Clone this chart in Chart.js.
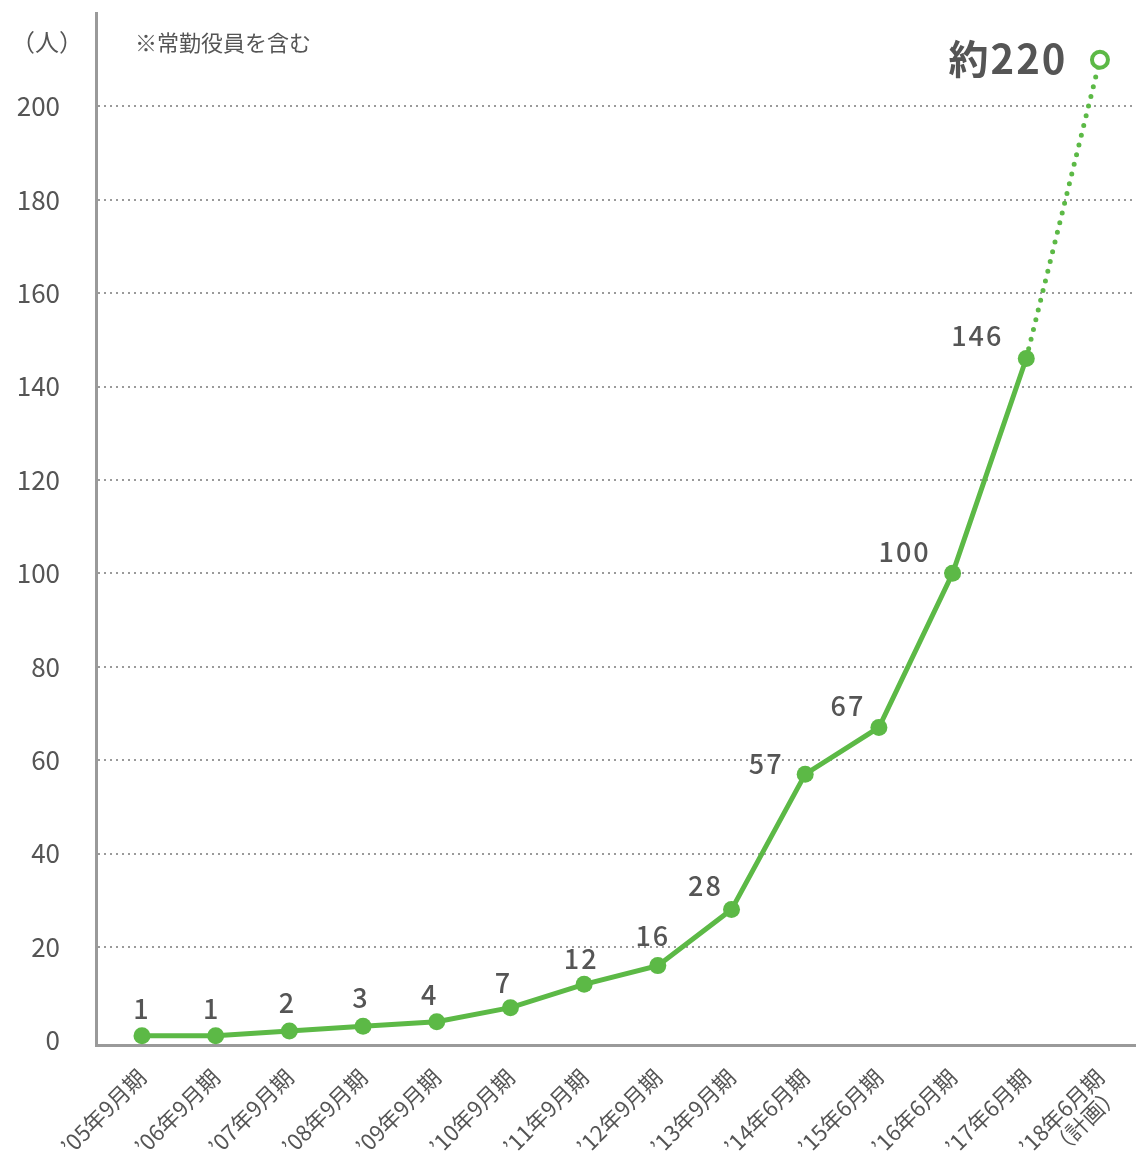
<!DOCTYPE html>
<html>
<head>
<meta charset="utf-8">
<script src="https://cdn.jsdelivr.net/npm/chart.js@4"></script>
<style>
  html, body { margin: 0; padding: 0; background: #fff; overflow: hidden; }
  #wrap { width: 1136px; height: 1152px; position: relative; }
  canvas { display: block; }
</style>
</head>
<body>
<div id="wrap"><canvas id="c"></canvas></div>
<script>
// ---- data ----
const categories = ['’05年9月期','’06年9月期','’07年9月期','’08年9月期','’09年9月期','’10年9月期','’11年9月期','’12年9月期','’13年9月期','’14年6月期','’15年6月期','’16年6月期','’17年6月期',['’18年6月期','（計画）']];
const employees = [1, 1, 2, 3, 4, 7, 12, 16, 28, 57, 67, 100, 146, 210];
const valueLabels = ['1','1','2','3','4','7','12','16','28','57','67','100','146','約220'];
const yTickValues = [0, 20, 40, 60, 80, 100, 120, 140, 160, 180, 200];
const unitLabel = '（人）';
const noteText = '※常勤役員を含む';

// ---- style ----
const GREEN = '#5cb946';
const TEXT = '#555555';
const FONT = "'Noto Sans CJK JP', 'Noto Sans', sans-serif";
const labelOffsets = [[0,-27],[-4,-27],[-2,-28],[-2,-29],[-7,-27],[-7,-25],[-3,-26],[-5,-30],[-26,-24],[-39,-10],[-31,-22],[-48,-22],[-49,-23],[-92,-1]];

const valueLabelPlugin = {
  id: 'valueLabels',
  afterDatasetsDraw(chart) {
    const ctx = chart.ctx;
    const meta = chart.getDatasetMeta(0);
    ctx.save();
    ctx.textAlign = 'center';
    ctx.textBaseline = 'middle';
    ctx.fillStyle = TEXT;
    meta.data.forEach((el, i) => {
      const last = i === meta.data.length - 1;
      ctx.font = last ? `bold 40px ${FONT}` : `500 27px ${FONT}`;
      ctx.letterSpacing = '2px';
      const [dx, dy] = labelOffsets[i];
      ctx.fillText(valueLabels[i], el.x + dx, el.y + dy);
    });
    ctx.restore();
  },
  afterDraw(chart) {
    const ctx = chart.ctx;
    const a = chart.chartArea;
    ctx.save();
    ctx.fillStyle = TEXT;
    ctx.textBaseline = 'middle';
    ctx.textAlign = 'left';
    ctx.font = `24px ${FONT}`;
    ctx.fillText(unitLabel, a.left - 85, 42);
    ctx.font = `22px ${FONT}`;
    ctx.fillText(noteText, a.left + 39, 43);
    ctx.restore();
  }
};

const lastIdx = employees.length - 1;

new Chart(document.getElementById('c'), {
  type: 'line',
  data: {
    datasets: [{
      data: employees.map((v, i) => ({x: i, y: v})),
      borderColor: GREEN,
      borderWidth: 5,
      pointRadius: employees.map((v, i) => i === lastIdx ? 8 : 8.5),
      pointBackgroundColor: employees.map((v, i) => i === lastIdx ? '#ffffff' : GREEN),
      pointBorderColor: GREEN,
      pointBorderWidth: employees.map((v, i) => i === lastIdx ? 4 : 0),
      pointHoverRadius: 8,
      tension: 0,
      fill: false,
      clip: false,
      segment: {
        borderDash: c => c.p1DataIndex === lastIdx ? [0, 10] : undefined,
        borderCapStyle: c => c.p1DataIndex === lastIdx ? 'round' : 'butt'
      }
    }]
  },
  options: {
    responsive: true,
    maintainAspectRatio: false,
    devicePixelRatio: 1,
    animation: false,
    layout: { autoPadding: false, padding: { top: 13, right: 0, left: 0, bottom: 0 } },
    plugins: { legend: { display: false }, tooltip: { enabled: false } },
    scales: {
      x: {
        type: 'linear',
        min: -0.624,
        max: 13.489,
        afterBuildTicks: s => { s.ticks = categories.map((_, i) => ({value: i})); },
        afterFit: s => { s.height = 107; s.paddingLeft = 0; s.paddingRight = 0; s.paddingTop = 0; s.paddingBottom = 0; },
        ticks: {
          autoSkip: false,
          minRotation: 45,
          maxRotation: 45,
          padding: 20,
          color: TEXT,
          font: { family: FONT, size: 22, lineHeight: 1.05 },
          callback: v => categories[v]
        },
        grid: { color: 'transparent', drawTicks: false },
        border: { display: true, color: '#9a9a9a', width: 3 }
      },
      y: {
        type: 'linear',
        min: -1,
        max: 220,
        afterBuildTicks: s => { s.ticks = yTickValues.map(v => ({value: v})); },
        afterFit: s => { s.width = 96; s.paddingLeft = 0; s.paddingRight = 0; s.paddingTop = 0; s.paddingBottom = 0; },
        ticks: {
          padding: 36,
          color: TEXT,
          font: { family: FONT, size: 26 }
        },
        grid: {
          drawTicks: false,
          color: c => (c.tick && c.tick.value === 0) ? 'transparent' : '#9a9a9a',
          lineWidth: 2
        },
        border: { display: true, color: '#9a9a9a', width: 3, dash: [2, 4] }
      }
    }
  },
  plugins: [valueLabelPlugin]
});
</script>
</body>
</html>
